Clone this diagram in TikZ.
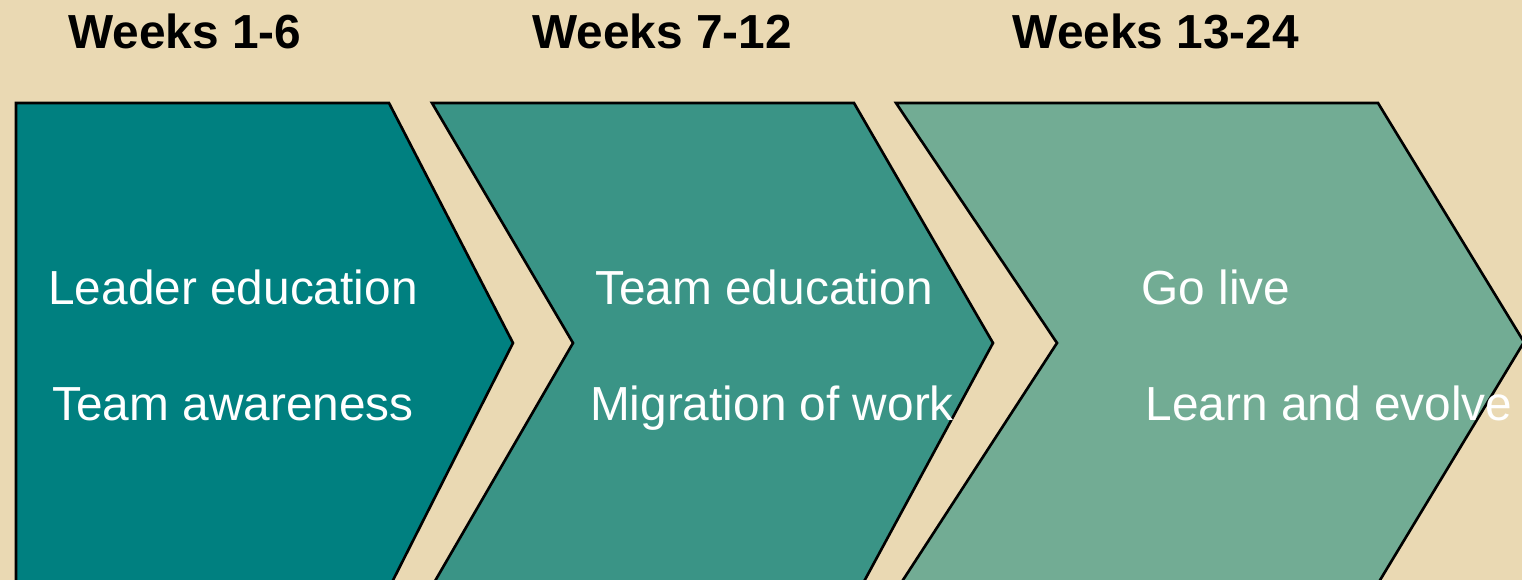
\documentclass[tikz,border=0pt]{standalone}
\usepackage{fontspec}
\setmainfont{Liberation Sans}

\definecolor{sand}{RGB}{234,217,179}
\definecolor{tealA}{RGB}{0,128,128}
\definecolor{tealB}{RGB}{58,148,134}
\definecolor{tealC}{RGB}{114,172,148}

\begin{document}
\begin{tikzpicture}[x=0.1mm, y=-0.1mm,
  font=\fontsize{13.6}{16}\selectfont,
  week/.style={anchor=base, font=\fontsize{13.6}{16}\selectfont\bfseries},
  task/.style={anchor=base, text=white}]

\fill[sand] (0,0) rectangle (1522,580);
\useasboundingbox (0,0) rectangle (1522,580);
\clip (0,0) rectangle (1522,580);

\foreach \x/\t/\n in {185/{Weeks 1-6}/wk1, 662/{Weeks 7-12}/wk2, 1156/{Weeks 13-24}/wk3}{
\node[week] (\n) at (\x,49) {\t};
}

% the three phases
\begin{scope}[draw=black, line width=0.75pt]
\filldraw[fill=tealA] (16,600) -- (16,103) -- (389,103) -- (513,343) -- (383,600);
\filldraw[fill=tealB] (424,600) -- (573,343) -- (432,103) -- (854,103) -- (993,343) -- (854,600);
\filldraw[fill=tealC] (890,600) -- (1057,343) -- (896,103) -- (1378,103) -- (1524,342) -- (1368,600);
\end{scope}

\node[task] (lead)  at (233,305)  {Leader education};
\node[task] (aware) at (233,421)  {Team awareness};
\node[task] (tedu)  at (764,305)  {Team education};
\node[task] (migr)  at (772,421)  {Migration of work};
\node[task] (live)  at (1216,305) {Go live};
\node[task] (learn) at (1329,421) {Learn and evolve};

\end{tikzpicture}
\end{document}
